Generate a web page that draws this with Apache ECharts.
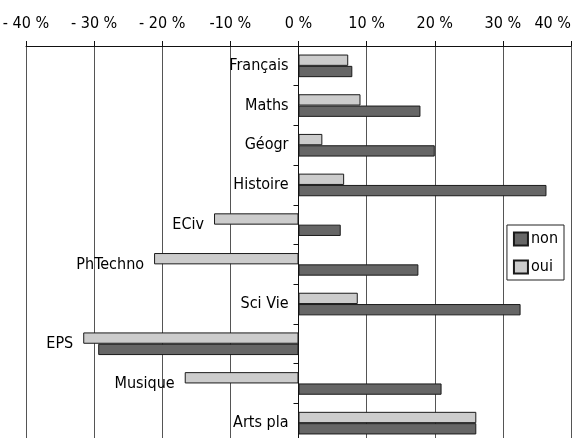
<!DOCTYPE html>
<html>
<head>
<meta charset="utf-8">
<script src="https://cdn.jsdelivr.net/npm/echarts@6/dist/echarts.min.js"></script>
<style>html,body{margin:0;padding:0;background:#fff}#c{width:575px;height:438px}</style>
</head>
<body>
<div id="c"></div>
<script>
var categories = ['Français','Maths','Géogr','Histoire','ECiv','PhTechno','Sci Vie','EPS','Musique','Arts pla'];
var ouiValues = [7.3, 9.1, 3.5, 6.7, -12.4, -21.2, 8.7, -31.6, -16.7, 26.1];
var nonValues = [7.9, 17.9, 20.0, 36.4, 6.2, 17.6, 32.6, -29.4, 21.0, 26.1];
var tickValues = [-40, -30, -20, -10, 0, 10, 20, 30, 40];
var tickLabels = ['- 40 %', '- 30 %', '- 20 %', '-10 %', '0 %', '10 %', '20 %', '30 %', '40 %'];

var FONT = '"DejaVu Sans Condensed", "Liberation Sans", sans-serif';
var FS = 16;
var labelAnchors = categories.map(function (c, i) {
  return Math.min(0, ouiValues[i], nonValues[i]);
});

var chart = echarts.init(document.getElementById('c'));
chart.setOption({
  animation: false,
  backgroundColor: '#fff',
  textStyle: { fontFamily: FONT },
  grid: { left: 26, right: 4, top: 46, height: 397, containLabel: false, outerBoundsMode: 'none' },
  legend: {
    data: ['non', 'oui'],
    orient: 'vertical',
    right: 11, top: 225,
    borderColor: '#222', borderWidth: 1, backgroundColor: '#fff',
    padding: [6, 6, 5, 6],
    itemWidth: 14, itemHeight: 13, itemGap: 12,
    textStyle: { fontFamily: FONT, fontSize: FS, color: '#000', lineHeight: 14, padding: [0, 0, 0, -2] },
    icon: 'rect'
  },
  xAxis: {
    type: 'value',
    position: 'top',
    min: tickValues[0], max: tickValues[tickValues.length - 1], interval: 10,
    axisLine: { show: true, lineStyle: { color: '#111', width: 1 } },
    axisTick: { show: true, length: 5, lineStyle: { color: '#111' } },
    splitLine: { show: true, lineStyle: { color: '#555', width: 1 } },
    axisLabel: {
      fontFamily: FONT, fontSize: FS, color: '#000', margin: 14,
      alignMaxLabel: 'right',
      formatter: function (v) {
        var i = tickValues.indexOf(v);
        return i >= 0 ? tickLabels[i] : '';
      }
    }
  },
  yAxis: {
    type: 'category',
    data: categories,
    inverse: true,
    axisLine: { show: true, onZero: true, lineStyle: { color: '#111', width: 1 } },
    axisTick: { show: true, length: 5, alignWithLabel: false, lineStyle: { color: '#111' } },
    axisLabel: { show: false },
    splitLine: { show: false }
  },
  series: [
    {
      name: 'oui', type: 'bar', data: ouiValues,
      barGap: '0%', barCategoryGap: '43%',
      itemStyle: { color: '#cccccc', borderColor: '#1a1a1a', borderWidth: 1 }
    },
    {
      name: 'non', type: 'bar', data: nonValues,
      barGap: '0%', barCategoryGap: '43%',
      itemStyle: { color: '#666666', borderColor: '#1a1a1a', borderWidth: 1 }
    },
    {
      type: 'scatter', data: labelAnchors,
      symbolSize: 0, itemStyle: { color: '#000' },
      silent: true, z: 10,
      label: {
        show: true, position: 'left', distance: 10,
        fontFamily: FONT, fontSize: FS, color: '#000',
        textBorderWidth: 0, textBorderColor: 'transparent', opacity: 1,
        formatter: function (p) { return categories[p.dataIndex]; }
      }
    }
  ]
});
</script>
</body>
</html>
